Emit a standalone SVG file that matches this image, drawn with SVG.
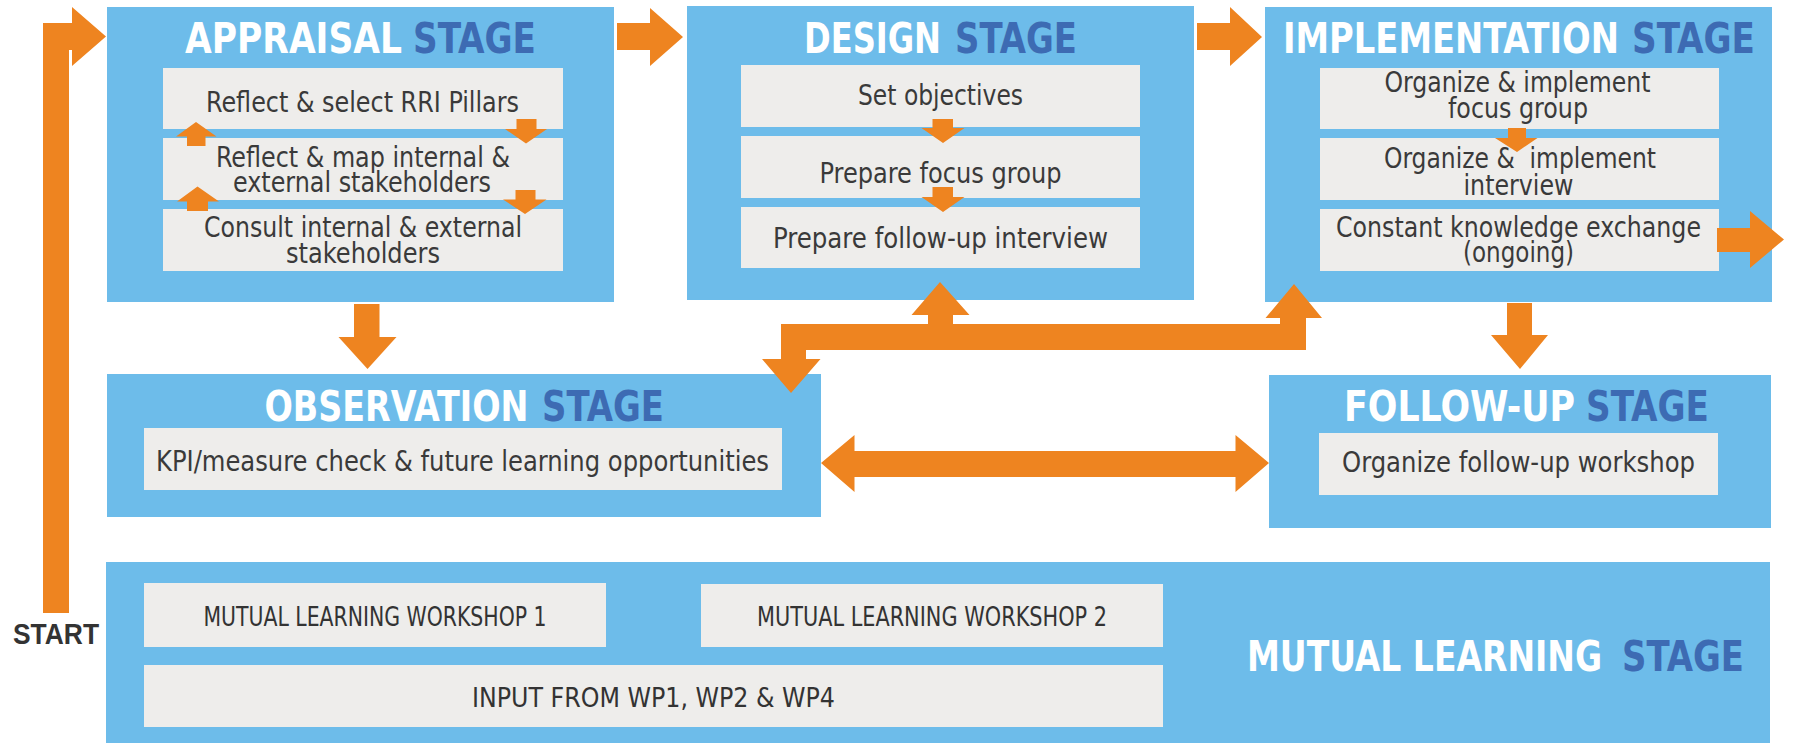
<svg xmlns="http://www.w3.org/2000/svg" width="1793" height="749" viewBox="0 0 1793 749">
<style>
.stage{fill:#6dbcea}
.item{fill:#eeedeb}
.ttl{font-family:"Liberation Sans Narrow","DejaVu Sans Condensed","Liberation Sans",sans-serif;font-weight:bold;font-size:43px;fill:#ffffff}
.ttl.blue{fill:#3d6bb3}
.txt{font-family:"Liberation Sans Narrow","DejaVu Sans Condensed","Liberation Sans",sans-serif;font-size:29px;fill:#3a3a3a}
.cap{font-family:"Liberation Sans Narrow","DejaVu Sans Condensed","Liberation Sans",sans-serif;font-size:26px;fill:#333333}
.start{font-family:"Liberation Sans","DejaVu Sans",sans-serif;font-weight:bold;font-size:30px;fill:#333333}
.arrow{fill:#ee8420}
</style>

<g id="appraisal">
<rect class="stage" x="107" y="7" width="507" height="295"/>
<text class="ttl" x="185" y="53" textLength="217" lengthAdjust="spacingAndGlyphs">APPRAISAL</text>
<text class="ttl blue" x="413" y="53" textLength="123" lengthAdjust="spacingAndGlyphs">STAGE</text>
<rect class="item" x="163" y="68" width="400" height="61"/>
<rect class="item" x="163" y="138" width="400" height="62"/>
<rect class="item" x="163" y="209" width="400" height="62"/>
<text class="txt" x="206" y="112" textLength="313" lengthAdjust="spacingAndGlyphs">Reflect &amp; select RRI Pillars</text>
<text class="txt" x="216" y="167" textLength="294" lengthAdjust="spacingAndGlyphs">Reflect &amp; map internal &amp;</text>
<text class="txt" x="233" y="192" textLength="258" lengthAdjust="spacingAndGlyphs">external stakeholders</text>
<text class="txt" x="204" y="237" textLength="318" lengthAdjust="spacingAndGlyphs">Consult internal &amp; external</text>
<text class="txt" x="286" y="263" textLength="154" lengthAdjust="spacingAndGlyphs">stakeholders</text>
</g>

<g id="design">
<rect class="stage" x="687" y="6" width="507" height="294"/>
<text class="ttl" x="804" y="53" textLength="137" lengthAdjust="spacingAndGlyphs">DESIGN</text>
<text class="ttl blue" x="955" y="53" textLength="122" lengthAdjust="spacingAndGlyphs">STAGE</text>
<rect class="item" x="741" y="65" width="399" height="62"/>
<rect class="item" x="741" y="136" width="399" height="62"/>
<rect class="item" x="741" y="207" width="399" height="61"/>
<text class="txt" x="858" y="105" textLength="165" lengthAdjust="spacingAndGlyphs">Set objectives</text>
<text class="txt" x="819.5" y="183" textLength="242" lengthAdjust="spacingAndGlyphs">Prepare focus group</text>
<text class="txt" x="773" y="248" textLength="335" lengthAdjust="spacingAndGlyphs">Prepare follow-up interview</text>
</g>

<g id="implementation">
<rect class="stage" x="1265" y="7" width="507" height="295"/>
<text class="ttl" x="1283" y="53" textLength="336" lengthAdjust="spacingAndGlyphs">IMPLEMENTATION</text>
<text class="ttl blue" x="1632" y="53" textLength="123" lengthAdjust="spacingAndGlyphs">STAGE</text>
<rect class="item" x="1320" y="68" width="399" height="61"/>
<rect class="item" x="1320" y="138" width="399" height="62"/>
<rect class="item" x="1320" y="209" width="399" height="62"/>
<text class="txt" x="1384.5" y="92" textLength="266" lengthAdjust="spacingAndGlyphs">Organize &amp; implement</text>
<text class="txt" x="1448" y="118" textLength="140" lengthAdjust="spacingAndGlyphs">focus group</text>
<text class="txt" x="1384" y="168" textLength="272" lengthAdjust="spacingAndGlyphs" xml:space="preserve">Organize &amp;  implement</text>
<text class="txt" x="1463.5" y="195" textLength="110" lengthAdjust="spacingAndGlyphs">interview</text>
<text class="txt" x="1336" y="237" textLength="365" lengthAdjust="spacingAndGlyphs">Constant knowledge exchange</text>
<text class="txt" x="1463" y="262" textLength="111" lengthAdjust="spacingAndGlyphs">(ongoing)</text>
</g>

<g id="observation">
<rect class="stage" x="107" y="374" width="714" height="143"/>
<text class="ttl" x="264.5" y="420.5" textLength="264" lengthAdjust="spacingAndGlyphs">OBSERVATION</text>
<text class="ttl blue" x="542" y="420.5" textLength="122" lengthAdjust="spacingAndGlyphs">STAGE</text>
<rect class="item" x="144" y="428" width="638" height="62"/>
<text class="txt" x="156" y="471" textLength="613" lengthAdjust="spacingAndGlyphs">KPI/measure check &amp; future learning opportunities</text>
</g>

<g id="followup">
<rect class="stage" x="1269" y="375" width="502" height="153"/>
<text class="ttl" x="1344" y="420.5" textLength="231" lengthAdjust="spacingAndGlyphs">FOLLOW-UP</text>
<text class="ttl blue" x="1586" y="420.5" textLength="123" lengthAdjust="spacingAndGlyphs">STAGE</text>
<rect class="item" x="1319" y="433" width="399" height="62"/>
<text class="txt" x="1342" y="472" textLength="353" lengthAdjust="spacingAndGlyphs">Organize follow-up workshop</text>
</g>

<g id="mutual">
<rect class="stage" x="106" y="562" width="1664" height="181"/>
<rect class="item" x="144" y="583" width="462" height="64"/>
<rect class="item" x="701" y="584" width="462" height="63"/>
<rect class="item" x="144" y="665" width="1019" height="62"/>
<text class="cap" x="203.5" y="626" textLength="343" lengthAdjust="spacingAndGlyphs">MUTUAL LEARNING WORKSHOP 1</text>
<text class="cap" x="757" y="626" textLength="350" lengthAdjust="spacingAndGlyphs">MUTUAL LEARNING WORKSHOP 2</text>
<text class="cap" x="472" y="707" textLength="363" lengthAdjust="spacingAndGlyphs">INPUT FROM WP1, WP2 &amp; WP4</text>
<text class="ttl" x="1247" y="671" textLength="355" lengthAdjust="spacingAndGlyphs">MUTUAL LEARNING</text>
<text class="ttl blue" x="1622" y="671" textLength="122" lengthAdjust="spacingAndGlyphs">STAGE</text>
</g>

<g id="start">
<text class="start" x="13" y="644" textLength="86" lengthAdjust="spacingAndGlyphs">START</text>
</g>

<g id="connectors">
<polygon class="arrow" points="43,613 43,23 72,23 72,7 106,36.5 72,66 72,50 69,50 69,613"/>
<polygon class="arrow" points="617,23 650,23 650,8 683,37 650,66 650,50 617,50"/>
<polygon class="arrow" points="1197,23 1230,23 1230,7 1262,37 1230,66 1230,50 1197,50"/>
<polygon class="arrow" points="354,304 379.5,304 379.5,337 396.5,337 367.5,369 338.5,337 354,337"/>
<polygon class="arrow" points="1507,303 1532,303 1532,335 1548,335 1520,369 1491,335 1507,335"/>
<polygon class="arrow" points="781,324 928,324 928,315 911.5,315 940,282 969.5,315 953,315 953,324 1280,324 1280,318 1265.5,318 1294,284 1322,318 1306,318 1306,350 806,350 806,359 820.5,359 791,393 762,359 781,359"/>
<polygon class="arrow" points="821,463 854.5,435 854.5,451 1235.5,451 1235.5,435 1269,463 1235.5,492 1235.5,477 854.5,477 854.5,492"/>
<polygon class="arrow" points="1717,228 1750,228 1750,211 1784,239.5 1750,268 1750,252 1717,252"/>
<polygon class="arrow" points="187,146 187,136.5 176,136.5 196,122 216.5,136.5 205.5,136.5 205.5,146"/>
<polygon class="arrow" points="187,211 187,201.5 177,201.5 197.5,186.5 219,201.5 208,201.5 208,211"/>
<polygon class="arrow" points="516.5,119 536.5,119 536.5,129 547,129 526,143.5 505,129 516.5,129"/>
<polygon class="arrow" points="515.5,190 535.5,190 535.5,199.5 546.5,199.5 525,214 503,199.5 515.5,199.5"/>
<polygon class="arrow" points="932.5,119 953,119 953,128 964.5,128 943,143 921.5,128 932.5,128"/>
<polygon class="arrow" points="932.5,187 953,187 953,197 964.5,197 943,212 921.5,197 932.5,197"/>
<polygon class="arrow" points="1508,128 1526,128 1526,138 1537.5,138 1517,152 1495,138 1508,138"/>
</g>
</svg>
